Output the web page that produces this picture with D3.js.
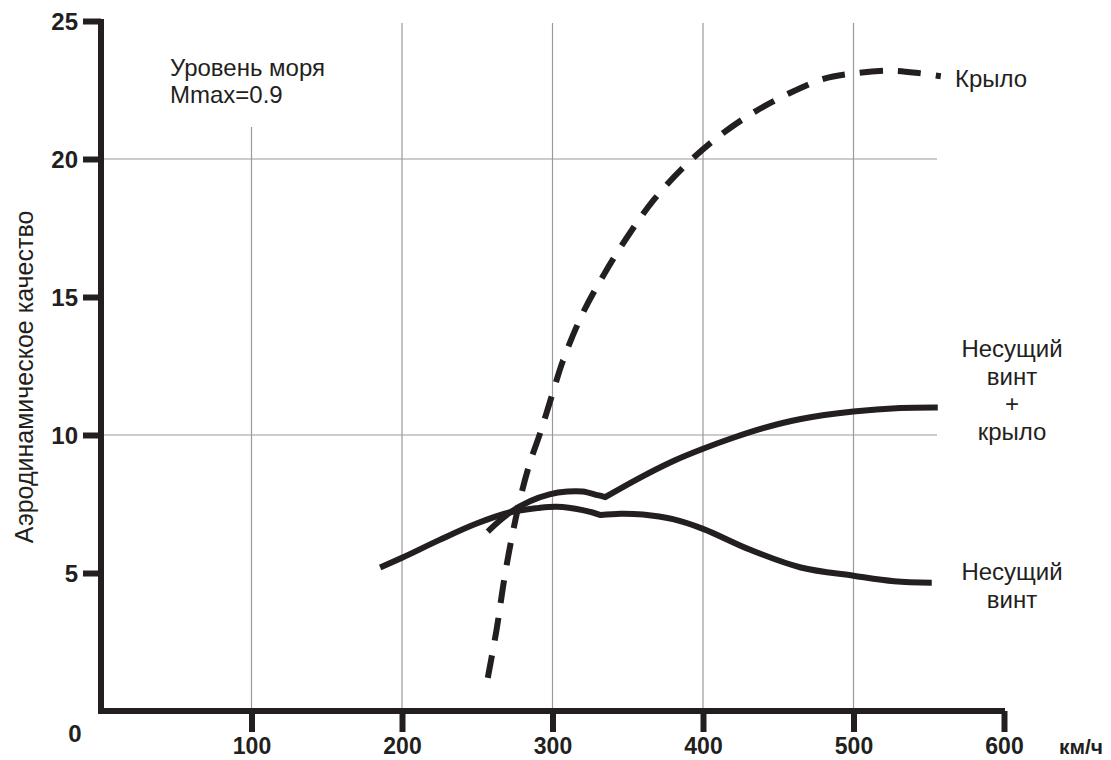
<!DOCTYPE html>
<html><head><meta charset="utf-8">
<script src="https://cdn.jsdelivr.net/npm/d3@7"></script>
<style>
html,body{margin:0;padding:0;background:#fff;}
svg{display:block;font-family:"Liberation Sans",Arial,sans-serif;}
</style></head>
<body><svg id="c" width="1111" height="760"></svg>
<script>
// ---- data (speed km/h, lift-to-drag ratio) ----
const xTicks = [100, 200, 300, 400, 500, 600];
const yTicks = [5, 10, 15, 20, 25];
const xGrid = [100, 200, 300, 400, 500];
const yGrid = [10, 20];

const wingSpeed = [257, 263, 268, 273, 279, 285, 292, 300, 307, 320, 334, 350, 367, 387, 410, 434, 458, 480, 500, 525, 545, 558];
const wingK     = [1.2, 3.0, 4.8, 6.3, 7.8, 9.0, 10.1, 11.5, 12.7, 14.4, 15.8, 17.2, 18.5, 19.7, 20.8, 21.7, 22.4, 22.9, 23.1, 23.2, 23.1, 23.0];

const rotorSpeed = [185.5, 200, 225, 250, 272, 290, 303, 320, 332, 345, 360, 380, 400, 431, 465, 500, 527, 552];
const rotorK     = [5.2, 5.55, 6.2, 6.8, 7.2, 7.35, 7.4, 7.28, 7.1, 7.15, 7.12, 6.95, 6.6, 5.85, 5.2, 4.9, 4.7, 4.65];
const rotorKinkAt = 332;

const comboSpeed = [257, 265, 272, 285, 298, 310, 320, 330, 335, 358, 380, 400, 420, 440, 465, 500, 531, 556];
const comboK     = [6.5, 6.9, 7.2, 7.6, 7.85, 7.95, 7.95, 7.82, 7.75, 8.45, 9.05, 9.5, 9.9, 10.25, 10.58, 10.85, 10.98, 11.0];
const comboKinkAt = 335;

const yTitle = "Аэродинамическое качество";
const xUnit = "км/ч";
const noteLines = ["Уровень моря", "Mmax=0.9"];
const wingLabel = ["Крыло"];
const comboLabel = ["Несущий", "винт", "+", "крыло"];
const rotorLabel = ["Несущий", "винт"];

// ---- drawing ----
const ink = "#231f20";
const svg = d3.select("#c");
const x = d3.scaleLinear().domain([0, 600]).range([101, 1004]);
const y = d3.scaleLinear().domain([0, 25]).range([711, 21]);

// grid
const g = svg.append("g");
g.selectAll("line.vg").data(xGrid).join("line")
  .attr("x1", d => x(d)).attr("x2", d => x(d))
  .attr("y1", d => d === 100 ? 127 : 23).attr("y2", y(0))
  .attr("stroke", "#9a9a9a").attr("stroke-width", 1.2);
g.selectAll("line.hg").data(yGrid).join("line")
  .attr("x1", x(0)).attr("x2", 937)
  .attr("y1", d => y(d)).attr("y2", d => y(d))
  .attr("stroke", "#9a9a9a").attr("stroke-width", 1.2);

// axes
const ax = svg.append("g").attr("transform", `translate(0,${y(0)})`)
  .call(d3.axisBottom(x).tickValues(xTicks).tickSize(21).tickSizeOuter(0).tickFormat(d3.format("d")));
ax.select(".domain").attr("stroke", ink).attr("stroke-width", 6).attr("d", `M${x(0)-3},0H${x(600)+1}`);
ax.selectAll(".tick line").attr("stroke", ink).attr("stroke-width", 6);
ax.selectAll(".tick text").attr("fill", ink).attr("font-size", 23).attr("font-weight", "bold")
  .attr("y", 43).attr("dy", 0).attr("font-family", "Liberation Sans, Arial, sans-serif");

const ay = svg.append("g").attr("transform", `translate(${x(0)},0)`)
  .call(d3.axisLeft(y).tickValues(yTicks).tickSize(18).tickSizeOuter(0));
ay.select(".domain").attr("stroke", ink).attr("stroke-width", 6).attr("d", `M0,${y(25)-2}V${y(0)+3}`);
ay.selectAll(".tick line").attr("stroke", ink).attr("stroke-width", 6);
ay.selectAll(".tick text").attr("fill", ink).attr("font-size", 24).attr("font-weight", "bold")
  .attr("x", -23).attr("dy", "0.36em").attr("font-family", "Liberation Sans, Arial, sans-serif");

svg.append("text").attr("x", 75).attr("y", 742).attr("text-anchor", "middle")
  .attr("font-size", 24).attr("font-weight", "bold").attr("fill", ink).text("0");
svg.append("text").attr("x", 1081).attr("y", 754).attr("text-anchor", "middle")
  .attr("font-size", 21).attr("font-weight", "bold").attr("fill", ink).text(xUnit);

svg.append("text").attr("transform", "translate(33,377) rotate(-90)").attr("text-anchor", "middle")
  .attr("font-size", 25).attr("fill", ink).text(yTitle);

// curves
function pts(xs, ys) { return xs.map((v, i) => [v, ys[i]]); }
const line = d3.line().x(d => x(d[0])).y(d => y(d[1])).curve(d3.curveCatmullRom.alpha(0.5));
function drawSplit(data, kink) {
  const a = data.filter(d => d[0] <= kink), b = data.filter(d => d[0] >= kink);
  svg.append("path").attr("d", line(a) + line(b).replace(/^M/, "L"))
    .attr("fill", "none").attr("stroke", ink)
    .attr("stroke-width", 6).attr("stroke-linejoin", "miter");
}
drawSplit(pts(rotorSpeed, rotorK), rotorKinkAt);
drawSplit(pts(comboSpeed, comboK), comboKinkAt);
svg.append("path").attr("d", line(pts(wingSpeed, wingK)))
  .attr("fill", "none").attr("stroke", ink).attr("stroke-width", 6).attr("stroke-dasharray", "23,15");

// labels
function block(lines, cx, by, step, anchor) {
  lines.forEach((t, i) => svg.append("text").attr("x", cx).attr("y", by + i * step)
    .attr("text-anchor", anchor).attr("font-size", 24).attr("fill", ink).text(t));
}
block(noteLines, 170, 76, 27, "start");
block(wingLabel, 955, 87, 27, "start");
block(comboLabel, 1012, 357, 27.5, "middle");
block(rotorLabel, 1012, 580, 28, "middle");
</script></body></html>
